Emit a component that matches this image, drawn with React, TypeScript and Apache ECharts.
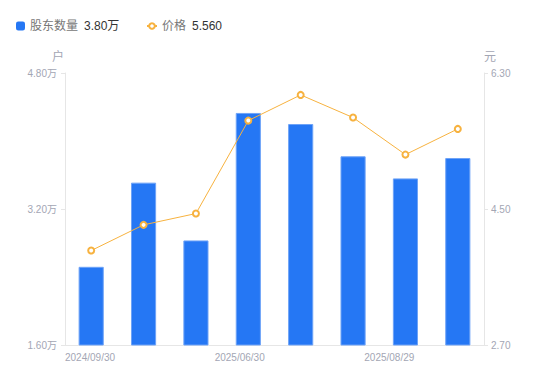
import React, { useEffect, useRef } from "react";
import * as echarts from "echarts";

const categories = [
  "2024/09/30",
  "2024/12/31",
  "2025/03/31",
  "2025/06/30",
  "2025/07/20",
  "2025/08/10",
  "2025/08/29",
  "2025/09/19",
];
const holders = [2.52, 3.51, 2.83, 4.33, 4.2, 3.82, 3.56, 3.8]; // 万户
const prices = [3.95, 4.29, 4.44, 5.67, 6.01, 5.71, 5.22, 5.56]; // 元
const xTickLabels = ["2024/09/30", "2025/06/30", "2025/08/29"];
const leftTicks = [1.6, 3.2, 4.8];
const rightTicks = [2.7, 4.5, 6.3];

const FONT = "'Liberation Sans', 'Noto Sans CJK SC', sans-serif";
const LABEL_COLOR = "#a3a6b4";
const LINE_COLOR = "#e6e6e6";
const BAR_COLOR = "#2577f4";
const PRICE_COLOR = "#f7b23f";

export default function App() {
  const ref = useRef<HTMLDivElement>(null);
  useEffect(() => {
    if (!ref.current) return;
    const chart = echarts.init(ref.current, undefined, { renderer: "svg" });
    const lastHolder = holders[holders.length - 1].toFixed(2) + "万";
    const lastPrice = prices[prices.length - 1].toFixed(3);
    const legendText = {
      fontFamily: FONT,
      rich: {
        n: { color: "#777", fontSize: 12, fontFamily: FONT },
        v: { color: "#333", fontSize: 12, fontFamily: FONT, padding: [0, 0, 0, 6] },
      },
    };
    chart.setOption({
      animation: false,
      textStyle: { fontFamily: FONT },
      legend: [
        {
          left: 11,
          top: 15,
          itemWidth: 9,
          itemHeight: 9,
          data: [{ name: "股东数量", icon: "roundRect" }],
          itemStyle: { borderWidth: 0 },
          formatter: (name: string) => `{n|${name}}{v|${lastHolder}}`,
          textStyle: legendText,
        },
        {
          left: 141,
          top: 15,
          itemWidth: 10,
          itemHeight: 7,
          data: [{ name: "价格" }],
          formatter: (name: string) => `{n|${name}}{v|${lastPrice}}`,
          textStyle: legendText,
        },
      ],
      grid: { left: 65, right: 66, top: 73, bottom: 36, containLabel: false },
      xAxis: [
        {
          type: "category",
          data: categories,
          boundaryGap: true,
          axisLine: { show: true, lineStyle: { color: LINE_COLOR } },
          axisTick: { show: false },
          axisLabel: { show: false },
          splitLine: { show: false },
        },
        {
          type: "value",
          position: "bottom",
          min: 0,
          max: 14,
          axisLine: { show: false },
          axisTick: { show: false },
          splitLine: { show: false },
          axisLabel: {
            customValues: [0, 5, 10],
            formatter: (v: number) => xTickLabels[Math.round(v / 5)] ?? "",
            align: "left",
            color: LABEL_COLOR,
            fontSize: 10,
            margin: 7,
            fontFamily: FONT,
          },
        },
      ],
      yAxis: [
        {
          type: "value",
          name: "户",
          nameLocation: "end",
          nameGap: 10,
          nameTextStyle: {
            color: LABEL_COLOR,
            fontSize: 12,
            padding: [0, 14, 0, 0],
            fontFamily: FONT,
          },
          min: 1.6,
          max: 4.8,
          interval: 1.6,
          axisLine: { show: true, lineStyle: { color: LINE_COLOR } },
          axisTick: {
            show: true,
            length: 4,
            customValues: leftTicks,
            lineStyle: { color: LINE_COLOR },
          },
          splitLine: { show: false },
          axisLabel: {
            customValues: leftTicks,
            formatter: (v: number) => v.toFixed(2) + "万",
            color: LABEL_COLOR,
            fontSize: 10,
            margin: 8,
            fontFamily: FONT,
          },
        },
        {
          type: "value",
          name: "元",
          nameLocation: "end",
          nameGap: 10,
          nameTextStyle: {
            color: LABEL_COLOR,
            fontSize: 12,
            padding: [0, 0, 0, 12],
            fontFamily: FONT,
          },
          min: 2.7,
          max: 6.3,
          position: "right",
          axisLine: { show: true, lineStyle: { color: LINE_COLOR } },
          axisTick: {
            show: true,
            length: 4,
            customValues: rightTicks,
            lineStyle: { color: LINE_COLOR },
          },
          splitLine: { show: false },
          axisLabel: {
            customValues: rightTicks,
            formatter: (v: number) => v.toFixed(2),
            color: LABEL_COLOR,
            fontSize: 10,
            margin: 7,
            fontFamily: FONT,
          },
        },
      ],
      series: [
        {
          name: "股东数量",
          type: "bar",
          xAxisIndex: 0,
          yAxisIndex: 0,
          data: holders,
          barWidth: "48%",
          itemStyle: { color: BAR_COLOR, borderColor: "#6ea3f7", borderWidth: 1 },
        },
        {
          name: "价格",
          type: "line",
          xAxisIndex: 0,
          yAxisIndex: 1,
          data: prices,
          symbol: "emptyCircle",
          symbolSize: 6,
          lineStyle: { color: PRICE_COLOR, width: 1 },
          itemStyle: { color: PRICE_COLOR, borderWidth: 1.5 },
        },
      ],
    });
    return () => chart.dispose();
  }, []);
  return (
    <div
      ref={ref}
      style={{ position: "absolute", left: 0, top: 0, width: 550, height: 381 }}
    />
  );
}
